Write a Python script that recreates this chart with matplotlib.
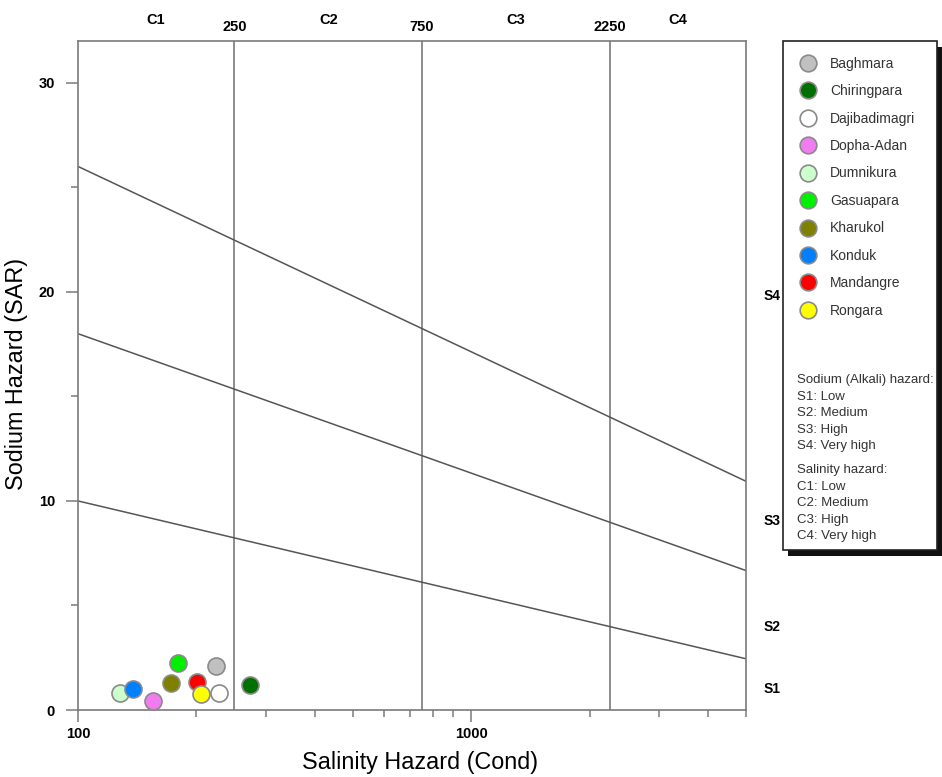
import numpy as np
import matplotlib
matplotlib.use("Agg")
import matplotlib.pyplot as plt
from matplotlib.patches import Rectangle
from matplotlib.lines import Line2D

plt.rcParams['font.family'] = ['Liberation Sans', 'DejaVu Sans']

# sample sites: conductivity (uS/cm) and sodium adsorption ratio
sites = ['Baghmara', 'Chiringpara', 'Dajibadimagri', 'Dopha-Adan', 'Dumnikura',
         'Gasuapara', 'Kharukol', 'Konduk', 'Mandangre', 'Rongara']
cond = [225, 274, 229, 155, 128, 180, 172, 138, 201, 206]
sar = [2.12, 1.20, 0.83, 0.43, 0.83, 2.26, 1.28, 0.99, 1.35, 0.77]
colors = ['#c0c0c0', '#007000', '#ffffff', '#f07cf0', '#ccffcc',
          '#00f000', '#808000', '#0080ff', '#ff0000', '#ffff00']

# salinity class boundaries and sodium hazard boundary lines (SAR at EC=100 and EC=5000)
c_bounds = [250, 750, 2250]
ec_range = [100, 5000]
s_lines = [[10.0, 2.45], [18.0, 6.67], [26.0, 10.94]]

fig = plt.figure(figsize=(9.42, 7.77), dpi=100)
ax = fig.add_axes([78 / 942, 1 - 710 / 777, 668 / 942, 669 / 777])

grey = '#7a7a7a'
for b in c_bounds:
    ax.axvline(b, color=grey, lw=1.2, zorder=1)
for s in s_lines:
    ax.plot(ec_range, s, color='#555555', lw=1.1, zorder=1)

for name, x, y, c in zip(sites, cond, sar, colors):
    ax.scatter(x, y, s=150, color=c, edgecolor='#8a8a8a', linewidth=1.2,
               zorder=3, label=name)

ax.set_xscale('log')
ax.set_xlim(100, 5000)
ax.set_ylim(0, 32)
ax.set_xticks([100, 1000])
ax.set_xticklabels(['100', '1000'])
ax.set_xticks([200, 300, 400, 500, 600, 700, 800, 900, 2000, 3000, 4000, 5000], minor=True)
ax.set_xticklabels([], minor=True)
ax.set_yticks([0, 10, 20, 30])
ax.set_yticks([5, 15, 25], minor=True)
for side in ax.spines.values():
    side.set_color(grey)
    side.set_linewidth(1.2)
ax.tick_params(which='major', length=8.5, width=1.1, color=grey, labelsize=10.5)
ax.tick_params(which='minor', length=4.8, width=1.1, color=grey)
ax.tick_params(axis='x', which='major', pad=3.5)
ax.tick_params(axis='y', which='major', pad=8)
for lab in ax.get_xticklabels() + ax.get_yticklabels():
    lab.set_fontweight('bold')

ax.set_xlabel('Salinity Hazard (Cond)', fontsize=16.8)
ax.xaxis.set_label_coords(0.512, -0.062)
ax.set_ylabel('Sodium Hazard (SAR)', fontsize=16.8)
ax.yaxis.set_label_coords(-0.075, 0.503)

# class labels above the plot
for lab, x in zip(['C1', 'C2', 'C3', 'C4'], [158, 433, 1299, 3354]):
    ax.text(x, 1.032, lab, transform=ax.get_xaxis_transform(), ha='center',
            va='center', fontsize=10.5, fontweight='bold')
for b in c_bounds:
    ax.text(b, 1.021, str(b), transform=ax.get_xaxis_transform(), ha='center',
            va='center', fontsize=10.5, fontweight='bold')
for lab, y in zip(['S1', 'S2', 'S3', 'S4'], [1.0, 3.95, 9.05, 19.8]):
    ax.text(1.027, y, lab, transform=ax.get_yaxis_transform(), ha='left',
            va='center', fontsize=10, fontweight='bold')

# legend panel with drop shadow
W, H = 942, 777
x0, y0, x1, y1 = 783, 41, 937, 550
fig.patches.append(Rectangle(((x0 + 5) / W, 1 - (y1 + 6) / H), (x1 - x0) / W, (y1 - y0) / H,
                             transform=fig.transFigure, facecolor='#111111',
                             edgecolor='none', zorder=0))
fig.patches.append(Rectangle((x0 / W, 1 - y1 / H), (x1 - x0) / W, (y1 - y0) / H,
                             transform=fig.transFigure, facecolor='white',
                             edgecolor='#222222', lw=1.2, zorder=1))

handles = [Line2D([], [], marker='o', ls='none', markersize=12, markerfacecolor=c,
                  markeredgecolor='#8a8a8a', markeredgewidth=1.2) for c in colors]
leg = fig.legend(handles, sites, loc='upper left', bbox_to_anchor=(794 / W, 1 - 51 / H),
                 frameon=False, fontsize=10, labelspacing=0.97, handletextpad=1.0,
                 borderaxespad=0, handlelength=1.2, labelcolor='#333333')

notes = ['Sodium (Alkali) hazard:', 'S1: Low', 'S2: Medium', 'S3: High', 'S4: Very high']
notes2 = ['Salinity hazard:', 'C1: Low', 'C2: Medium', 'C3: High', 'C4: Very high']
for i, t in enumerate(notes):
    fig.text(797 / W, 1 - (380 + 16.6 * i) / H, t, fontsize=9.5, color='#333333', va='center')
for i, t in enumerate(notes2):
    fig.text(797 / W, 1 - (470 + 16.6 * i) / H, t, fontsize=9.5, color='#333333', va='center')

fig.savefig('out.png', dpi=100)
